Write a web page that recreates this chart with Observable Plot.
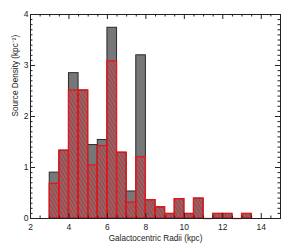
<!DOCTYPE html>
<html>
<head>
<meta charset="utf-8">
<script src="https://cdn.jsdelivr.net/npm/d3@7"></script>
<script src="https://cdn.jsdelivr.net/npm/@observablehq/plot@0.6"></script>
<style>
  html, body { margin: 0; padding: 0; background: #fff; }
  svg { display: block; }
</style>
</head>
<body>
<div id="chart"></div>
<script>
// Bin left edges (kpc), bin width 0.5 kpc
const binStart = [3, 3.5, 4, 4.5, 5, 5.5, 6, 6.5, 7, 7.5, 8, 8.5, 9, 9.5, 10, 10.5, 11, 11.5, 12, 12.5, 13];
// Total source density (grey bars)
const totalDensity = [0.90, 1.33, 2.85, 2.51, 1.44, 1.54, 3.74, 1.29, 0.53, 3.20, 0.36, 0.22, 0.09, 0.38, 0.09, 0.39, 0, 0.09, 0.09, 0, 0.09];
// Subset source density (red hatched bars)
const subsetDensity = [0.68, 1.33, 2.51, 2.51, 1.04, 1.42, 3.08, 1.29, 0.31, 1.20, 0.36, 0.22, 0.09, 0.38, 0.09, 0.39, 0, 0.09, 0.09, 0, 0.09];
const binWidth = 0.5;

const xMajor = [2, 4, 6, 8, 10, 12, 14];
const yMajor = [0, 1, 2, 3, 4];
const xMinor = d3.range(2, 15.001, 0.5).filter(v => !xMajor.includes(v));
const yMinor = d3.range(0, 4.001, 0.1).map(v => Math.round(v * 10) / 10).filter(v => !yMajor.includes(v));

const xLabel = "Galactocentric Radii (kpc)";
const yLabel = "Source Density (kpc\u207B\u00B2)";

const data = binStart.map((s, i) => ({x1: s, x2: s + binWidth, total: totalDensity[i], subset: subsetDensity[i]}));

const W = 293, H = 245;
const mL = 30, mR = 13, mT = 14, mB = 27;
const plotW = W - mL - mR, plotH = H - mT - mB;
const majLen = 5, minLen = 2.5;

const axisColor = "#222";
const red = "#e8141c";

const svg = Plot.plot({
  width: W,
  height: H,
  marginLeft: mL,
  marginRight: mR,
  marginTop: mT,
  marginBottom: mB,
  style: {fontFamily: "'Liberation Sans', Arial, sans-serif", fontSize: "8.5px", background: "#fff", color: "#222"},
  x: {domain: [2, 15]},
  y: {domain: [0, 4]},
  marks: [
    Plot.rectY(data, {x1: "x1", x2: "x2", y: "total", fill: "#777777", stroke: "#2a2a2a", strokeWidth: 1, inset: 0}),
    Plot.rectY(data, {x1: "x1", x2: "x2", y: "subset", fill: "url(#hatch)", stroke: red, strokeWidth: 1.3, inset: 0}),
    Plot.ruleY(data.filter(d => d.total === 0), {x1: "x1", x2: "x2", y: 0, stroke: red, strokeWidth: 1.3}),
    Plot.frame({stroke: axisColor, strokeWidth: 1}),
    // bottom ticks (inward)
    Plot.tickX(xMajor, {x: d => d, insetTop: plotH - majLen, stroke: axisColor}),
    Plot.tickX(xMinor, {x: d => d, insetTop: plotH - minLen, stroke: axisColor}),
    // top ticks
    Plot.tickX(xMajor, {x: d => d, insetBottom: plotH - majLen, stroke: axisColor}),
    Plot.tickX(xMinor, {x: d => d, insetBottom: plotH - minLen, stroke: axisColor}),
    // left ticks
    Plot.tickY(yMajor, {y: d => d, insetRight: plotW - majLen, stroke: axisColor}),
    Plot.tickY(yMinor, {y: d => d, insetRight: plotW - minLen, stroke: axisColor}),
    // right ticks
    Plot.tickY(yMajor, {y: d => d, insetLeft: plotW - majLen, stroke: axisColor}),
    Plot.tickY(yMinor, {y: d => d, insetLeft: plotW - minLen, stroke: axisColor}),
    Plot.axisX({ticks: xMajor, tickFormat: d3.format("d"), tickSize: 0, tickPadding: 5, label: null, fontSize: 8.5}),
    Plot.axisY({ticks: yMajor, tickFormat: d3.format("d"), tickSize: 0, tickPadding: 2, label: null, fontSize: 8.5}),
    Plot.text([xLabel], {text: d => d, frameAnchor: "bottom", dy: 20, fontSize: 8.2, fill: "#222", lineAnchor: "middle"}),
    Plot.text([yLabel], {text: d => d, frameAnchor: "left", dx: -15, rotate: -90, fontSize: 8.2, fill: "#222", lineAnchor: "middle"})
  ]
});

const defs = d3.select(svg).insert("defs", ":first-child");
const pat = defs.append("pattern")
  .attr("id", "hatch")
  .attr("patternUnits", "userSpaceOnUse")
  .attr("width", 3)
  .attr("height", 3)
  .attr("patternTransform", "rotate(-30)");
pat.append("line")
  .attr("x1", 0.8).attr("y1", -1)
  .attr("x2", 0.8).attr("y2", 4)
  .attr("stroke", red)
  .attr("stroke-width", 0.95);

document.getElementById("chart").appendChild(svg);
</script>
</body>
</html>
